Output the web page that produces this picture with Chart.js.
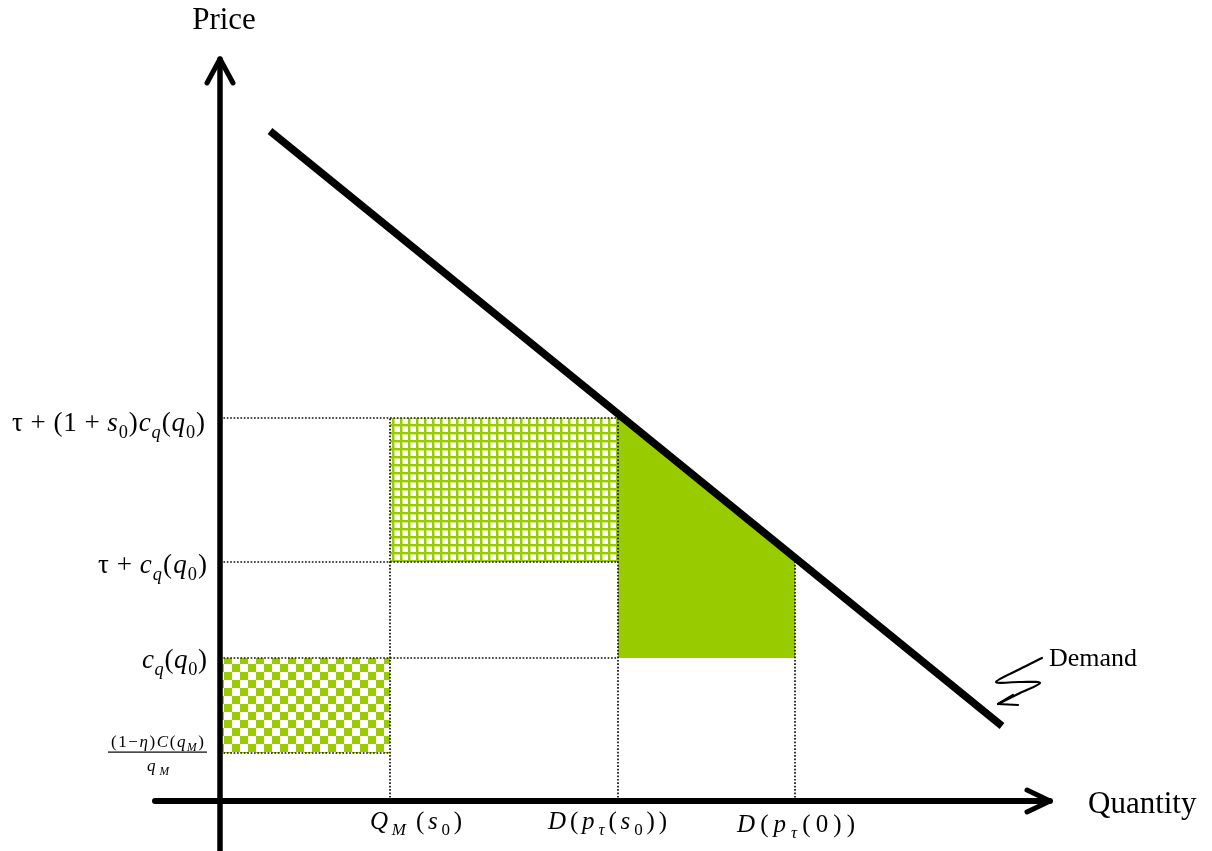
<!DOCTYPE html>
<html>
<head>
<meta charset="utf-8">
<script src="https://cdn.jsdelivr.net/npm/chart.js@4/dist/chart.umd.min.js"></script>
<style>
  html, body { margin: 0; padding: 0; background: #ffffff; }
  #wrap { width: 1212px; height: 851px; position: relative; }
</style>
</head>
<body>
<div id="wrap"><canvas id="c"></canvas></div>
<script>
// ---- Data (units, origin at the axes' crossing) ----
const quantityLevels = [170, 398, 575];          // Q_M(s0), D(p_tau(s0)), D(p_tau(0))
const priceLevels    = [48, 143, 239, 383];      // (1-eta)C(q_M)/q_M, c_q(q0), tau+c_q(q0), tau+(1+s0)c_q(q0)
const demandQ = [50, 782];
const demandP = [670, 75];
const subsidyQ = [398, 575];                     // green area under demand
const subsidyP = [387, 243];
const axisYRange = [-50, 742];
const axisXRange = [-65, 830];
const squiggleQ = [822, 800, 776, 800, 820, 800, 778];
const squiggleP = [143, 132, 119, 119, 118, 108, 97];
const arrowQ = [793, 778, 798];
const arrowP = [106, 97, 96];

const GREEN = '#99CC00';

function pts(xs, ys) { return xs.map((x, i) => ({ x: x, y: ys[i] })); }

function gridPattern() {
  const c = document.createElement('canvas'); c.width = 8; c.height = 8;
  const g = c.getContext('2d');
  g.fillStyle = '#ffffff'; g.fillRect(0, 0, 8, 8);
  g.fillStyle = '#CDE680'; g.fillRect(0, 0, 8, 3); g.fillRect(0, 0, 3, 8);
  g.fillStyle = GREEN; g.fillRect(0, 0, 8, 2); g.fillRect(0, 0, 2, 8);
  return g.createPattern(c, 'repeat');
}
function checkerPattern() {
  const c = document.createElement('canvas'); c.width = 16; c.height = 16;
  const g = c.getContext('2d');
  g.fillStyle = '#ffffff'; g.fillRect(0, 0, 16, 16);
  g.fillStyle = GREEN; g.fillRect(0, 0, 8, 8); g.fillRect(8, 8, 8, 8);
  return g.createPattern(c, 'repeat');
}

const datasets = [];
// filled regions
datasets.push({ data: pts([quantityLevels[0], quantityLevels[1]], [priceLevels[3], priceLevels[3]]),
  fill: { value: priceLevels[2] }, backgroundColor: gridPattern(), borderWidth: 0, borderColor: 'rgba(0,0,0,0)', order: 20 });
datasets.push({ data: pts([0, quantityLevels[0]], [priceLevels[1], priceLevels[1]]),
  fill: { value: priceLevels[0] }, backgroundColor: checkerPattern(), borderWidth: 0, borderColor: 'rgba(0,0,0,0)', order: 20 });
datasets.push({ data: pts(subsidyQ, subsidyP),
  fill: { value: priceLevels[1] }, backgroundColor: GREEN, borderWidth: 0, borderColor: 'rgba(0,0,0,0)', order: 20 });

// dotted guide lines
const dotted = { borderColor: '#111111', borderWidth: 1.7, borderDash: [1.7, 1.7], fill: false, order: 10 };
const hSegs = [[priceLevels[3], quantityLevels[1]], [priceLevels[2], quantityLevels[1]], [priceLevels[1], quantityLevels[1]], [priceLevels[0], quantityLevels[0]]];
hSegs.forEach(s => datasets.push(Object.assign({ data: pts([0, s[1]], [s[0], s[0]]) }, dotted)));
const vSegs = [[quantityLevels[0], priceLevels[3]], [quantityLevels[1], priceLevels[3]], [quantityLevels[2], priceLevels[2]]];
vSegs.forEach(s => datasets.push(Object.assign({ data: pts([s[0], s[0]], [0, s[1]]) }, dotted)));

// demand curve
datasets.push({ data: pts(demandQ, demandP), borderColor: '#000', borderWidth: 7.5, borderCapStyle: 'butt', fill: false, order: 5 });

// axes with arrowheads
const axisStyle = { borderColor: '#000', borderCapStyle: 'round', borderJoinStyle: 'round', fill: false, order: 2 };
datasets.push(Object.assign({ data: pts([0, 0], axisYRange), borderWidth: 5.5 }, axisStyle));
datasets.push(Object.assign({ data: pts([-13, 0, 13], [718, 742, 718]), borderWidth: 5 }, axisStyle));
datasets.push(Object.assign({ data: pts(axisXRange, [0, 0]), borderWidth: 6 }, axisStyle));
datasets.push(Object.assign({ data: pts([807, 830, 807], [11, 0, -11]), borderWidth: 5 }, axisStyle));

// demand pointer squiggle
datasets.push({ data: pts(squiggleQ, squiggleP), borderColor: '#000', borderWidth: 2.2, tension: 0.35, fill: false, borderCapStyle: 'round', order: 1 });
datasets.push({ data: pts(arrowQ, arrowP), borderColor: '#000', borderWidth: 2.2, fill: false, borderCapStyle: 'round', borderJoinStyle: 'round', order: 1 });

datasets.forEach(d => { d.showLine = true; d.pointRadius = 0; d.pointHoverRadius = 0; });

// ---- rich text labels ----
const SERIF = "'Liberation Serif', 'Times New Roman', serif";
function fontFor(style, fs) {
  const sub = style.indexOf('s') >= 0;
  const it = style.indexOf('i') >= 0;
  return (it ? 'italic ' : '') + (sub ? fs * 0.68 : fs) + 'px ' + SERIF;
}
function drawRich(ctx, parts, x, y, align, fs, target) {
  const w = parts.map(p => { ctx.font = fontFor(p[1], fs); return ctx.measureText(p[0]).width; });
  const nat = w.reduce((a, b) => a + b, 0);
  const gap = parts.length > 1 ? (target - nat) / (parts.length - 1) : 0;
  let cx = align === 'right' ? x - target : (align === 'center' ? x - target / 2 : x);
  ctx.textAlign = 'left'; ctx.textBaseline = 'alphabetic';
  parts.forEach((p, i) => {
    ctx.font = fontFor(p[1], fs);
    const dy = p[1].indexOf('s') >= 0 ? fs * 0.25 : 0;
    ctx.fillText(p[0], cx, y + dy);
    cx += w[i] + gap;
  });
}

const priceLabelParts = [
  [['(', ''], ['1', ''], ['\u2212', ''], ['\u03B7', 'i'], [')', ''], ['C', 'i'], ['(', ''], ['q', 'i'], ['M', 'si'], [')', '']],
  [['c', 'i'], ['q', 'si'], ['(', ''], ['q', 'i'], ['0', 's'], [')', '']],
  [['\u03C4', ''], [' + ', ''], ['c', 'i'], ['q', 'si'], ['(', ''], ['q', 'i'], ['0', 's'], [')', '']],
  [['\u03C4', ''], [' + ', ''], ['(', ''], ['1', ''], [' + ', ''], ['s', 'i'], ['0', 's'], [')', ''], ['c', 'i'], ['q', 'si'], ['(', ''], ['q', 'i'], ['0', 's'], [')', '']]
];
const quantityLabelParts = [
  [['Q', 'i'], ['M', 'si'], [' (', ''], ['s', 'i'], ['0', 's'], [')', '']],
  [['D', 'i'], ['(', ''], ['p', 'i'], ['\u03C4', 'si'], ['(', ''], ['s', 'i'], ['0', 's'], [')', ''], [')', '']],
  [['D', 'i'], ['(', ''], ['p', 'i'], ['\u03C4', 'si'], ['(', ''], ['0', ''], [')', ''], [')', '']]
];

const labelPlugin = {
  id: 'labels',
  afterDatasetsDraw(chart) {
    const ctx = chart.ctx, xs = chart.scales.x, ys = chart.scales.y;
    const X = v => xs.getPixelForValue(v), Y = v => ys.getPixelForValue(v);
    ctx.save();
    ctx.fillStyle = '#000';
    // axis titles
    ctx.font = '31px ' + SERIF; ctx.textAlign = 'center'; ctx.textBaseline = 'alphabetic';
    ctx.fillText('Price', X(0) + 4, 29);
    ctx.textAlign = 'left';
    ctx.fillText('Quantity', X(axisXRange[1]) + 38, Y(0) + 12);
    ctx.font = '26px ' + SERIF;
    ctx.fillText('Demand', X(squiggleQ[0]) + 7, Y(squiggleP[0]) + 8);

    // price labels
    const ax = X(0);
    drawRich(ctx, priceLabelParts[3], ax - 15, Y(priceLevels[3]) + 13, 'right', 27, 193);
    drawRich(ctx, priceLabelParts[2], ax - 13, Y(priceLevels[2]) + 11, 'right', 27, 109);
    drawRich(ctx, priceLabelParts[1], ax - 13, Y(priceLevels[1]) + 10, 'right', 27, 65);
    // fraction
    const fy = Y(priceLevels[0]);
    drawRich(ctx, priceLabelParts[0], ax - 16, fy - 6, 'right', 17, 93);
    ctx.fillRect(ax - 112, fy - 1.5, 99, 1.2);
    drawRich(ctx, [['q', 'i'], ['M', 'si']], ax - 62, fy + 18, 'center', 17, 22);

    // quantity labels
    const by = Y(0);
    drawRich(ctx, quantityLabelParts[0], X(quantityLevels[0]) - 20, by + 28, 'left', 25, 92);
    drawRich(ctx, quantityLabelParts[1], X(quantityLevels[1]) - 70, by + 28, 'left', 25, 119);
    drawRich(ctx, quantityLabelParts[2], X(quantityLevels[2]) - 58, by + 31, 'left', 25, 118);
    ctx.restore();
  }
};

new Chart(document.getElementById('c'), {
  type: 'scatter',
  data: { datasets: datasets },
  options: {
    responsive: true,
    maintainAspectRatio: false,
    animation: false,
    devicePixelRatio: 1,
    layout: { padding: 0 },
    plugins: { legend: { display: false }, tooltip: { enabled: false }, title: { display: false } },
    events: [],
    scales: {
      x: { type: 'linear', min: -220, max: 992, display: false },
      y: { type: 'linear', min: -50, max: 801, display: false }
    }
  },
  plugins: [labelPlugin]
});
</script>
</body>
</html>
